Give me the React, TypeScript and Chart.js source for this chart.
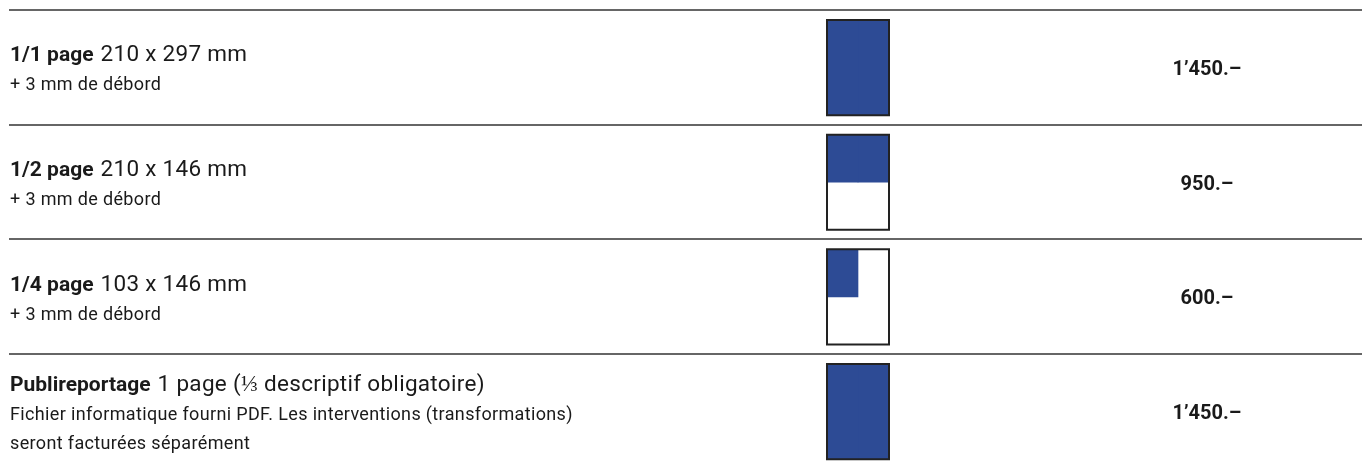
import { useEffect, useRef } from 'react';
import { Chart, registerables } from 'chart.js';

Chart.register(...registerables);

// ---- data ----
const rowTitles = ['1/1 page', '1/2 page', '1/4 page', 'Publireportage'];
const rowFormats = ['210 x 297 mm', '210 x 146 mm', '103 x 146 mm', '1 page (⅓ descriptif obligatoire)'];
const rowNotes = [
  ['+ 3 mm de débord'],
  ['+ 3 mm de débord'],
  ['+ 3 mm de débord'],
  ['Fichier informatique fourni PDF. Les interventions (transformations)', 'seront facturées séparément'],
];
const prices = [1450, 950, 600, 1450];
// share of the page covered by the ad (width, height), drawn in the page thumbnail
const adWidthShare = [1, 1, 0.5, 1];
const adHeightShare = [1, 0.5, 0.5, 1];

// ---- styles / layout ----
const BLUE = '#2d4b95';
const INK = '#1a1a1a';
const FONT = 'Roboto';
const PAGE_TOP = 0.087; // thumbnail top inside a row (row units)
const PAGE_H = 0.83; // thumbnail height (row units)

const formatPrice = (v: number) =>
  String(v).replace(/\B(?=(\d{3})+(?!\d))/g, '\u2019') + '.\u2013';

const rowIdx = rowTitles.map((_, i) => i);

const textPlugin = {
  id: 'rowText',
  afterDatasetsDraw(chart: any) {
    const { ctx, chartArea } = chart;
    const y = chart.scales.y;
    const left = chartArea.left + 1;
    const priceCenter = chartArea.left + (chartArea.right - chartArea.left) * 0.8854;
    ctx.save();
    ctx.fillStyle = INK;
    ctx.textBaseline = 'alphabetic';
    rowIdx.forEach((i) => {
      const top = y.getPixelForValue(i);
      const notes = rowNotes[i];
      const base = top + 51.5 - 15 * (notes.length - 1);
      ctx.textAlign = 'left';
      ctx.letterSpacing = '0px';
      ctx.font = `bold 21px ${FONT}`;
      ctx.fillText(rowTitles[i], left, base);
      const w = ctx.measureText(rowTitles[i]).width;
      ctx.letterSpacing = '0.3px';
      ctx.font = `22.5px ${FONT}`;
      ctx.fillText(rowFormats[i], left + w + 7, base);
      ctx.letterSpacing = '0.35px';
      ctx.font = `18px ${FONT}`;
      notes.forEach((n, k) => {
        ctx.fillText(n, left, base + 29 + k * 29);
      });
      ctx.letterSpacing = '0px';
      ctx.textAlign = 'center';
      ctx.font = `bold 20px ${FONT}`;
      ctx.fillText(formatPrice(prices[i]), priceCenter, top + 65);
    });
    ctx.restore();
  },
};

export default function App() {
  const ref = useRef<HTMLCanvasElement>(null);
  useEffect(() => {
    document.body.style.margin = '0';
    const outlines = rowIdx.map((i) => ({
      type: 'line' as const,
      label: 'page ' + rowTitles[i],
      data: [
        { x: 0, y: i + PAGE_TOP },
        { x: 1, y: i + PAGE_TOP },
        { x: 1, y: i + PAGE_TOP + PAGE_H },
        { x: 0, y: i + PAGE_TOP + PAGE_H },
        { x: 0, y: i + PAGE_TOP },
      ],
      borderColor: '#222222',
      borderWidth: 2,
      pointRadius: 0,
      tension: 0,
      fill: false,
      borderCapStyle: 'square' as const,
      borderJoinStyle: 'miter' as const,
      order: 0,
    }));
    const leftHalf = {
      type: 'bar' as const,
      label: 'ad left half',
      data: rowIdx
        .filter((i) => adWidthShare[i] > 0)
        .map((i) => ({ x: 0.25, y: [i + PAGE_TOP, i + PAGE_TOP + PAGE_H * adHeightShare[i]] })),
      backgroundColor: BLUE,
      borderWidth: 0,
      grouped: false,
      barPercentage: 1,
      categoryPercentage: 1,
      order: 1,
    };
    const rightHalf = {
      type: 'bar' as const,
      label: 'ad right half',
      data: rowIdx
        .filter((i) => adWidthShare[i] > 0.5)
        .map((i) => ({ x: 0.75, y: [i + PAGE_TOP, i + PAGE_TOP + PAGE_H * adHeightShare[i]] })),
      backgroundColor: BLUE,
      borderWidth: 0,
      grouped: false,
      barPercentage: 1,
      categoryPercentage: 1,
      order: 1,
    };
    const chart = new Chart(ref.current!, {
      type: 'bar',
      data: { datasets: [...outlines, leftHalf, rightHalf] as any },
      options: {
        animation: false,
        responsive: true,
        maintainAspectRatio: false,
        layout: { padding: { left: 9, right: 0, top: 0, bottom: 0 } },
        plugins: { legend: { display: false }, tooltip: { enabled: false }, title: { display: false } },
        events: [],
        scales: {
          x: {
            type: 'linear',
            display: false,
            offset: false,
            min: -13.1935,
            max: 8.629,
            grid: { display: false, offset: false },
          },
          y: {
            type: 'linear',
            reverse: true,
            min: -0.0872,
            max: 3.933,
            border: { display: false },
            ticks: { display: false, stepSize: 1, includeBounds: false },
            grid: { color: '#666666', lineWidth: 2, drawTicks: false },
          },
        },
      },
      plugins: [textPlugin],
    });
    return () => chart.destroy();
  }, []);
  return (
    <div style={{ width: 1362, height: 461, position: 'relative' }}>
      <canvas ref={ref} />
    </div>
  );
}
